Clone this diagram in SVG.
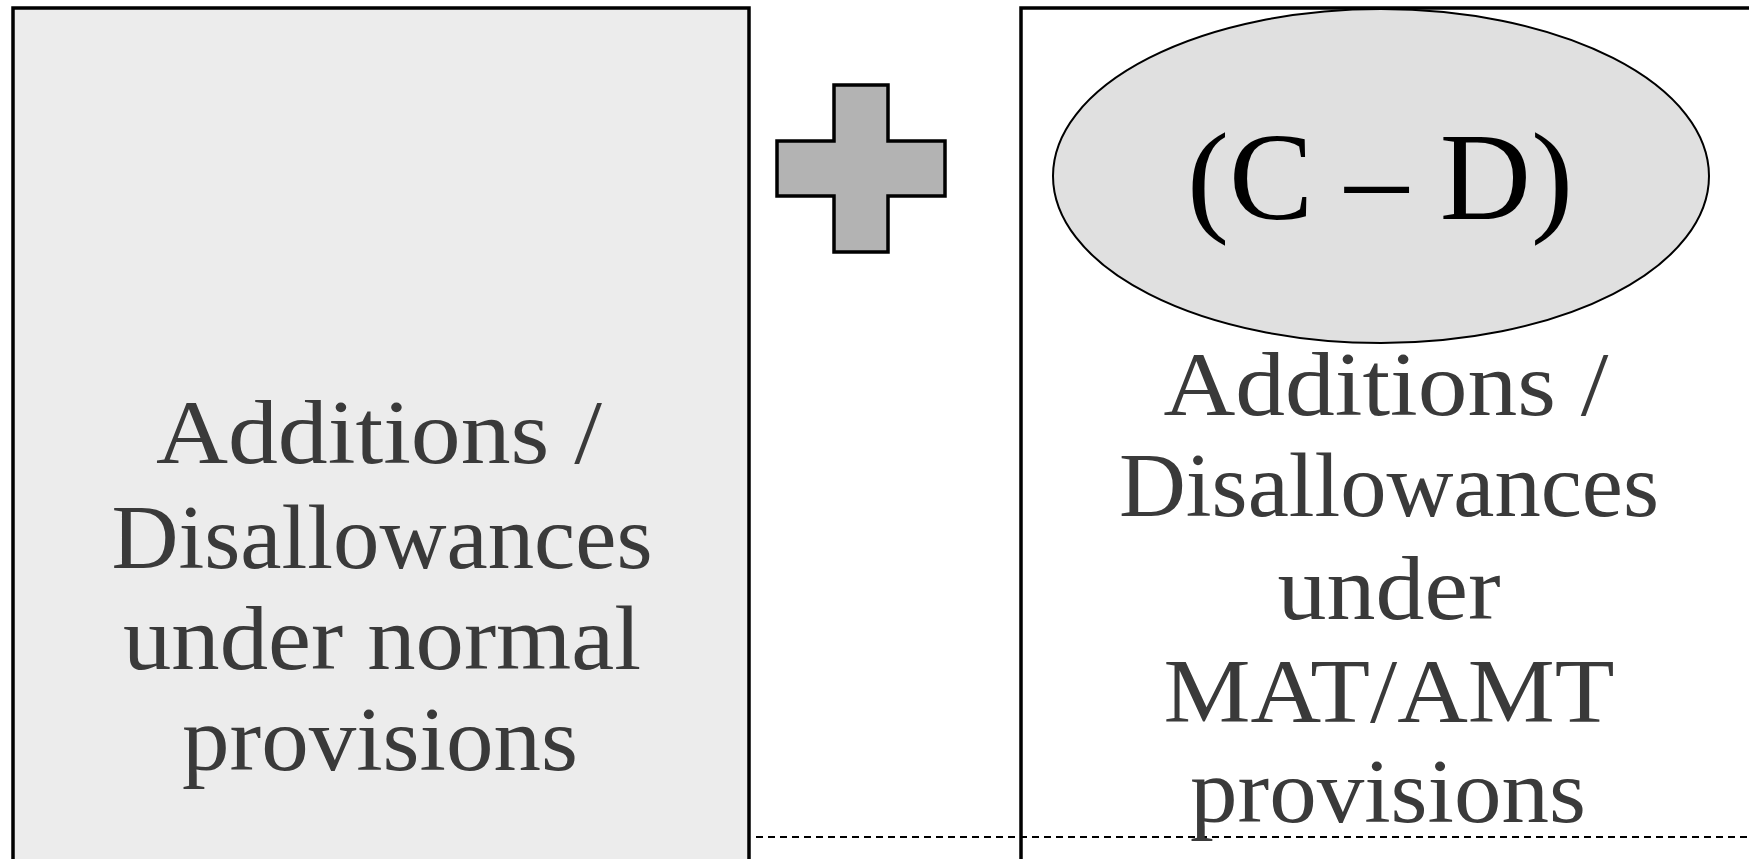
<svg xmlns="http://www.w3.org/2000/svg" width="1749" height="859" viewBox="0 0 1749 859">
<style>
.box{stroke:#000;stroke-width:3.5}
.lbl{font-family:"Liberation Serif","Times New Roman",serif;font-size:90px;fill:#3a3a3a;text-anchor:middle}
.big{font-family:"Liberation Serif","Times New Roman",serif;font-size:125px;fill:#000;text-anchor:middle}
</style>
<rect width="1749" height="859" fill="#fff"/>
<g id="left-box">
<rect class="box" x="13" y="8" width="736" height="870" fill="#ececec"/>
<text class="lbl" x="379" y="463" textLength="446" lengthAdjust="spacingAndGlyphs">Additions /</text>
<text class="lbl" x="382" y="568" textLength="541" lengthAdjust="spacingAndGlyphs">Disallowances</text>
<text class="lbl" x="382" y="669" textLength="518" lengthAdjust="spacingAndGlyphs">under normal</text>
<text class="lbl" x="380" y="770" textLength="396" lengthAdjust="spacingAndGlyphs">provisions</text>
</g>
<g id="plus">
<polygon points="834,85 888,85 888,141 945,141 945,196 888,196 888,252 834,252 834,196 777,196 777,141 834,141" fill="#b3b3b3" stroke="#000" stroke-width="3.5"/>
</g>
<g id="connectors">
<line x1="756" y1="837" x2="1749" y2="837" stroke="#000" stroke-width="2" stroke-dasharray="7,5"/>
</g>
<g id="right-box">
<rect class="box" x="1021" y="8" width="800" height="870" fill="none"/>
<text class="lbl" x="1386" y="415" textLength="445" lengthAdjust="spacingAndGlyphs">Additions /</text>
<text class="lbl" x="1389" y="516" textLength="540" lengthAdjust="spacingAndGlyphs">Disallowances</text>
<text class="lbl" x="1389" y="619" textLength="223" lengthAdjust="spacingAndGlyphs">under</text>
<text class="lbl" x="1389" y="722" textLength="451" lengthAdjust="spacingAndGlyphs">MAT/AMT</text>
<text class="lbl" x="1388" y="822" textLength="396" lengthAdjust="spacingAndGlyphs">provisions</text>
</g>
<g id="cd-ellipse">
<ellipse cx="1381" cy="176" rx="328" ry="167" fill="#e0e0e0" stroke="#000" stroke-width="2"/>
<text class="big" x="1380" y="219" textLength="386" lengthAdjust="spacingAndGlyphs">(C – D)</text>
</g>
</svg>
